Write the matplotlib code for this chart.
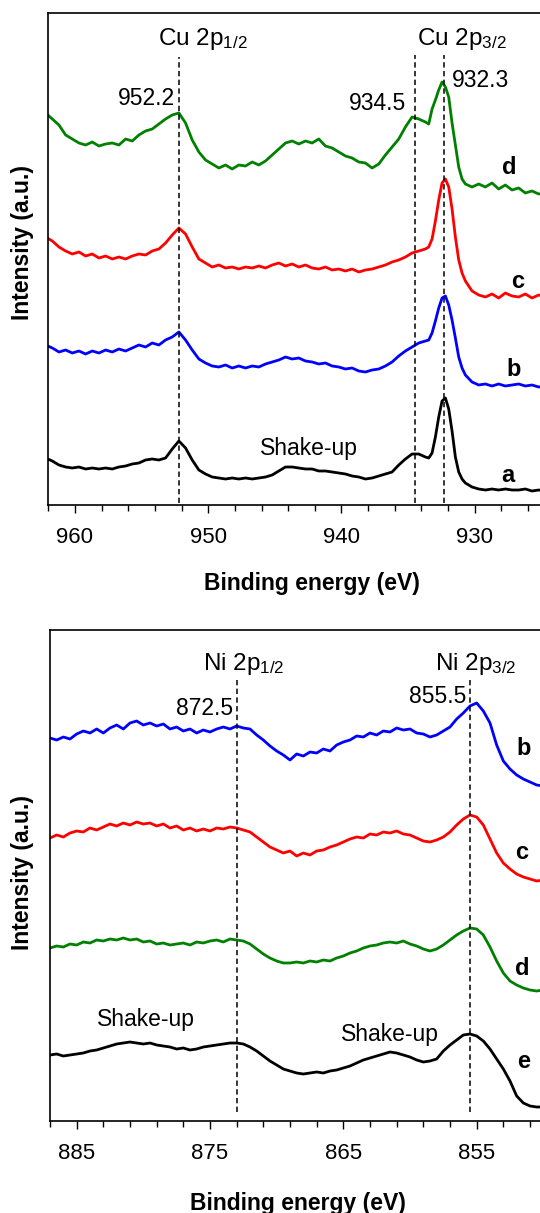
import numpy as np
import matplotlib
matplotlib.use("Agg")
import matplotlib.pyplot as plt
from matplotlib.ticker import MultipleLocator

plt.rcParams['font.family'] = ['Liberation Sans', 'DejaVu Sans']
plt.rcParams['mathtext.fontset'] = 'custom'
plt.rcParams['mathtext.rm'] = 'Liberation Sans'
plt.rcParams['mathtext.it'] = 'Liberation Sans:italic'
plt.rcParams['mathtext.bf'] = 'Liberation Sans:bold'

# ---- Cu 2p panel (binding energy, eV) ----
cu_energy = np.concatenate([np.arange(962.2, 933.6, -0.5),
                            np.arange(933.45, 930.6, -0.25),
                            np.arange(930.2, 924.6, -0.5)])

cu_a = [47, 44, 40, 38, 37, 38, 36, 37, 36, 37, 36, 38, 39, 41, 42, 45, 46, 45, 47, 56,
        64, 57, 45, 35, 31, 28, 27, 26, 27, 26, 27, 26, 27, 28, 30, 34, 38, 38, 37, 36,
        36, 34, 34, 33, 32, 31, 29, 28, 26, 27, 29, 31, 33, 40, 46, 51, 51, 48,
        47, 52, 68, 88, 104, 107, 96, 74, 48, 33, 26, 22,
        18, 16, 15, 16, 15, 16, 15, 15, 16, 14, 15, 14]
cu_b = [160, 157, 153, 155, 152, 154, 151, 154, 152, 155, 153, 156, 154, 157, 160, 158, 162, 160, 165, 168,
        173, 165, 155, 146, 142, 139, 138, 140, 137, 139, 137, 139, 138, 141, 143, 145, 148, 146, 147, 144,
        143, 141, 142, 139, 138, 136, 137, 134, 133, 135, 136, 139, 143, 149, 154, 158, 162, 164,
        165, 172, 184, 197, 207, 209, 200, 185, 167, 148, 137, 130,
        123, 120, 121, 119, 121, 119, 120, 121, 119, 120, 118, 119]
cu_c = [268, 264, 258, 254, 251, 253, 249, 251, 247, 249, 246, 248, 246, 249, 251, 250, 254, 256, 262, 270,
        277, 271, 258, 246, 242, 238, 240, 237, 238, 236, 238, 237, 239, 237, 240, 242, 239, 241, 238, 240,
        237, 236, 238, 235, 236, 234, 236, 233, 235, 236, 238, 240, 243, 245, 248, 252, 254, 256,
        258, 266, 284, 305, 322, 326, 318, 296, 268, 245, 232, 224,
        214, 210, 208, 211, 207, 212, 209, 208, 211, 207, 210, 208]
cu_d = [392, 386, 380, 370, 366, 362, 360, 363, 359, 361, 362, 360, 366, 364, 370, 374, 376, 381, 386, 390,
        392, 382, 365, 353, 345, 341, 337, 340, 336, 340, 339, 343, 340, 344, 350, 356, 362, 364, 361, 364,
        362, 366, 359, 357, 353, 349, 347, 343, 342, 337, 341, 350, 358, 366, 378, 388, 386, 383,
        381, 396, 405, 415, 423, 418, 408, 382, 360, 338, 326, 321,
        318, 321, 318, 322, 316, 320, 315, 317, 312, 314, 311, 312]

# ---- Ni 2p panel ----
ni_energy = np.arange(887.0, 849.4, -0.5)

ni_b = [383, 381, 384, 382, 387, 390, 388, 392, 388, 393, 396, 392, 398, 400, 396, 398, 395, 397, 392, 394,
        390, 392, 388, 391, 389, 392, 394, 392, 395, 393, 392, 386, 381, 375, 370, 366, 361, 367, 365, 369,
        368, 372, 370, 376, 379, 381, 385, 384, 388, 386, 390, 389, 393, 391, 392, 388, 387, 384, 386, 390,
        394, 402, 408, 415, 418, 410, 398, 376, 360, 352, 346, 342, 339, 336, 335, 333]
ni_c = [283, 286, 284, 288, 290, 289, 293, 291, 294, 297, 295, 298, 296, 299, 297, 298, 295, 297, 293, 295,
        291, 293, 290, 292, 290, 293, 292, 294, 293, 291, 289, 284, 279, 274, 271, 268, 270, 265, 268, 266,
        270, 271, 274, 276, 279, 282, 284, 283, 287, 286, 289, 288, 290, 287, 286, 283, 280, 279, 281, 284,
        289, 296, 302, 306, 304, 296, 282, 268, 258, 252, 247, 244, 242, 240, 241, 240]
ni_d = [173, 175, 174, 177, 176, 179, 178, 181, 180, 182, 181, 183, 181, 182, 179, 180, 177, 178, 176, 177,
        178, 176, 179, 178, 180, 181, 179, 182, 181, 180, 177, 172, 167, 163, 160, 158, 158, 159, 158, 160,
        159, 161, 160, 163, 165, 168, 170, 173, 175, 176, 178, 179, 178, 180, 177, 175, 172, 170, 172, 176,
        181, 186, 190, 193, 192, 186, 174, 160, 148, 140, 136, 133, 131, 130, 131, 130]
ni_e = [66, 67, 65, 66, 67, 68, 70, 71, 73, 75, 77, 78, 79, 78, 77, 78, 76, 75, 74, 72,
        73, 71, 72, 74, 75, 76, 77, 78, 78, 77, 74, 70, 65, 60, 56, 52, 50, 48, 47, 48,
        49, 48, 50, 51, 53, 55, 58, 61, 63, 65, 67, 69, 68, 66, 64, 61, 59, 60, 62, 70,
        76, 81, 86, 87, 85, 80, 72, 62, 52, 40, 25, 18, 15, 14, 14, 13]

cu_lines = [952.2, 934.5, 932.3]
ni_lines = [873.0, 855.5]
cu_ticks = [960, 950, 940, 930]
ni_ticks = [885, 875, 865, 855]

fig = plt.figure(figsize=(5.40, 12.13), dpi=100)
ax1 = fig.add_axes([48.3 / 540, 1 - 505 / 1213, 1 - 48.3 / 540, 492 / 1213])
ax2 = fig.add_axes([50 / 540, 1 - 1121 / 1213, 1 - 50 / 540, 491 / 1213])

lw = 2.0
ax1.plot(cu_energy, cu_a, color='black', lw=lw)
ax1.plot(cu_energy, cu_b, color='#0000ff', lw=lw)
ax1.plot(cu_energy, cu_c, color='#ff0000', lw=lw)
ax1.plot(cu_energy, cu_d, color='#008000', lw=lw)

ax2.plot(ni_energy, ni_b, color='#0000ff', lw=lw)
ax2.plot(ni_energy, ni_c, color='#ff0000', lw=lw)
ax2.plot(ni_energy, ni_d, color='#008000', lw=lw)
ax2.plot(ni_energy, ni_e, color='black', lw=lw)

dash = (0, (3.5, 2.2))
ax1.vlines(cu_lines[0], 2, 448, color='black', lw=1.1, linestyles=[dash])
ax1.vlines(cu_lines[1:], 2, 450, color='black', lw=1.1, linestyles=[dash])
ax2.vlines(ni_lines, 9, 441, color='black', lw=1.1, linestyles=[dash])

for ax, xl, yl, tk in [(ax1, (962, 925.1), 492, cu_ticks), (ax2, (887, 850.25), 491, ni_ticks)]:
    ax.set_xlim(*xl)
    ax.set_ylim(0, yl)
    ax.set_yticks([])
    ax.spines['right'].set_visible(False)
    for s in ['left', 'bottom', 'top']:
        ax.spines[s].set_linewidth(1.2)
    ax.set_xticks(tk)
    ax.set_xticks(np.arange(tk[0] + 2, xl[1], -2), minor=True)
    ax.tick_params(axis='x', which='major', direction='out', length=5.5, width=1.0,
                   labelsize=16, pad=10.5)
    ax.tick_params(axis='x', which='minor', direction='out', length=4, width=1.0)

ax1.set_xlabel('Binding energy (eV)', fontsize=16.5, fontweight='bold')
ax1.xaxis.set_label_coords((312 - 48.3) / 491.7, -67 / 492)
ax1.set_ylabel('Intensity (a.u.)', fontsize=16.5, fontweight='bold')
ax1.yaxis.set_label_coords((33.5 - 48.3) / 491.7, (505 - 242.5) / 492)

ax2.set_xlabel('Binding energy (eV)', fontsize=16.5, fontweight='bold')
ax2.xaxis.set_label_coords((298 - 50) / 490, -71 / 491)
ax2.set_ylabel('Intensity (a.u.)', fontsize=16.5, fontweight='bold')
ax2.yaxis.set_label_coords((33.5 - 50) / 490, (1121 - 872) / 491)

# Cu annotations
ax1.text(950.4, 460, 'Cu 2p$_{1/2}$', fontsize=17.5, ha='center', va='baseline')
ax1.text(931.0, 460, 'Cu 2p$_{3/2}$', fontsize=17.5, ha='center', va='baseline')
ax1.text(954.6, 400, '952.2', fontsize=16.5, ha='center', va='baseline')
ax1.text(937.3, 395, '934.5', fontsize=16.5, ha='center', va='baseline')
ax1.text(929.6, 418, '932.3', fontsize=16.5, ha='center', va='baseline')
ax1.text(942.4, 50, 'Shake-up', fontsize=16.5, ha='center', va='baseline')
for lab, e, i in [('d', 927.4, 338), ('c', 926.8, 224), ('b', 927.1, 136), ('a', 927.5, 30)]:
    ax1.text(e, i, lab, fontsize=17, fontweight='bold', ha='center', va='center')

# Ni annotations
ax2.text(872.5, 451, 'Ni 2p$_{1/2}$', fontsize=17.5, ha='center', va='baseline')
ax2.text(855.1, 451, 'Ni 2p$_{3/2}$', fontsize=17.5, ha='center', va='baseline')
ax2.text(875.4, 406, '872.5', fontsize=16.5, ha='center', va='baseline')
ax2.text(857.9, 418, '855.5', fontsize=16.5, ha='center', va='baseline')
ax2.text(879.8, 95, 'Shake-up', fontsize=16.5, ha='center', va='baseline')
ax2.text(861.5, 80, 'Shake-up', fontsize=16.5, ha='center', va='baseline')
for lab, e, i in [('b', 851.5, 373), ('c', 851.6, 269), ('d', 851.6, 153), ('e', 851.5, 60)]:
    ax2.text(e, i, lab, fontsize=17, fontweight='bold', ha='center', va='center')

fig.savefig('out.png', dpi=100)
